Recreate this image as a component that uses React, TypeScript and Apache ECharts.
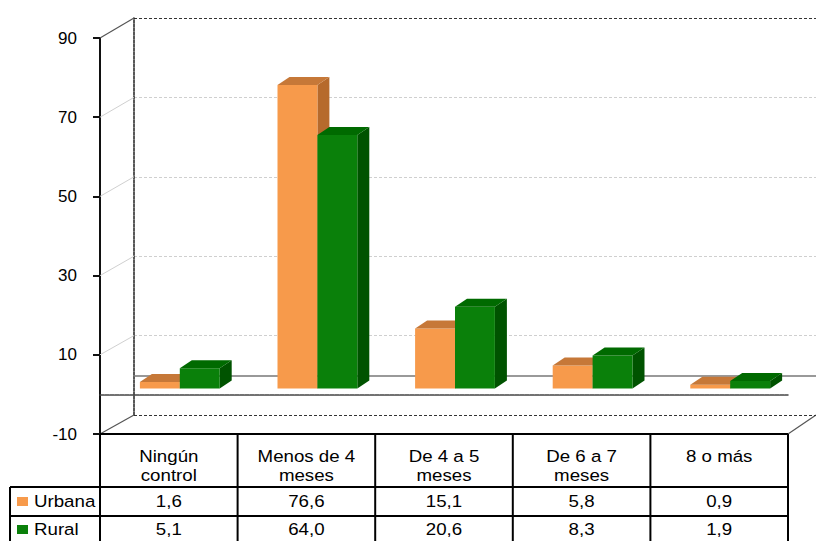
import React, { useEffect, useRef } from 'react';
import * as echarts from 'echarts';

const categories = ['Ningún\ncontrol', 'Menos de 4\nmeses', 'De 4 a 5\nmeses', 'De 6 a 7\nmeses', '8 o más'];
const seriesNames = ['Urbana', 'Rural'];
const urbana = [1.6, 76.6, 15.1, 5.8, 0.9];
const rural = [5.1, 64.0, 20.6, 8.3, 1.9];
const yMin = -10;
const yMax = 90;
const yStep = 20;

const PALETTE = [
  { front: '#F79A4B', top: '#C67838', side: '#B66A2C' },
  { front: '#0A800A', top: '#006A00', side: '#005300' },
];

// layout
const FRONT = { left: 100, top: 38, width: 688, height: 396 };
const BACK = { left: 134, top: 18, width: 682, height: 397 };
const BARS = { left: 111, top: 32, width: 688, height: 396 };
const DX = 12;
const DY = 8;
const TABLE_TOP = 434;
const ROW1 = 487;
const ROW2 = 516;
const ROW3 = 545;
const LEG_LEFT = 10;
const FONT = "17px 'Liberation Sans', Arial, sans-serif";
const TEXT_SX = 1.1;

const fmt = (v: number) => v.toFixed(1).replace('.', ',');

function makeRender(sIdx: number) {
  return (params: any, api: any) => {
    const i = api.value(0);
    const v = api.value(1);
    const base = api.coord([i, 0]);
    const topP = api.coord([i, v]);
    const band = api.size([1, 0])[0];
    const w = band * 0.29;
    const x0 = base[0] - w + sIdx * w;
    const yT = topP[1];
    const yB = base[1];
    const c = PALETTE[sIdx];
    return {
      type: 'group',
      children: [
        {
          type: 'polygon',
          shape: { points: [[x0 + w, yT], [x0 + w + DX, yT - DY], [x0 + w + DX, yB - DY], [x0 + w, yB]] },
          style: { fill: c.side },
        },
        {
          type: 'rect',
          shape: { x: x0, y: yT, width: w, height: yB - yT },
          style: { fill: c.front },
        },
        {
          type: 'polygon',
          shape: { points: [[x0, yT], [x0 + DX, yT - DY], [x0 + w + DX, yT - DY], [x0 + w, yT]] },
          style: { fill: c.top },
        },
      ],
    };
  };
}

export default function App() {
  const ref = useRef<HTMLDivElement>(null);
  useEffect(() => {
    if (!ref.current) return;
    const chart = echarts.init(ref.current, null, { renderer: 'svg' });

    const graphics: any[] = [];
    const nTicks = Math.round((yMax - yMin) / yStep);
    const fScale = FRONT.height / (yMax - yMin);
    const bScale = BACK.height / (yMax - yMin);
    for (let k = 0; k <= nTicks; k++) {
      const v = yMin + k * yStep;
      const yF = FRONT.top + (yMax - v) * fScale;
      const yBk = BACK.top + (yMax - v) * bScale;
      const edge = k === 0 || k === nTicks;
      graphics.push({
        type: 'line',
        shape: { x1: FRONT.left, y1: yF, x2: BACK.left, y2: yBk },
        style: { stroke: edge ? '#555' : '#d0d0d0', lineWidth: edge ? 1.2 : 1 },
        z: 1,
      });
    }
    // right floor diagonal
    graphics.push({
      type: 'line',
      shape: { x1: FRONT.left + FRONT.width, y1: TABLE_TOP, x2: BACK.left + BACK.width, y2: BACK.top + BACK.height },
      style: { stroke: '#555', lineWidth: 1.2 },
    });
    // table lines
    const colW = FRONT.width / categories.length;
    const L = (x1: number, y1: number, x2: number, y2: number) =>
      graphics.push({ type: 'line', shape: { x1, y1, x2, y2 }, style: { stroke: '#000', lineWidth: 2 }, z: 10 });
    L(FRONT.left, TABLE_TOP, FRONT.left + FRONT.width, TABLE_TOP);
    L(LEG_LEFT, ROW1, FRONT.left + FRONT.width, ROW1);
    L(LEG_LEFT, ROW2, FRONT.left + FRONT.width, ROW2);
    L(LEG_LEFT, ROW3, FRONT.left + FRONT.width, ROW3);
    L(LEG_LEFT, ROW1, LEG_LEFT, ROW3);
    for (let c = 0; c <= categories.length; c++) {
      const x = FRONT.left + c * colW;
      L(x, TABLE_TOP, x, ROW3);
    }
    // table texts
    categories.forEach((cat, i) => {
      const cx = FRONT.left + (i + 0.5) * colW;
      graphics.push({
        type: 'text',
        x: cx,
        y: TABLE_TOP + 13,
        scaleX: TEXT_SX,
        style: { text: cat, font: FONT, fill: '#000', align: 'center', verticalAlign: 'top', textAlign: 'center', textVerticalAlign: 'top', lineHeight: 19 },
        z: 10,
      });
      [urbana, rural].forEach((arr, s) => {
        graphics.push({
          type: 'text',
          x: cx,
          y: s === 0 ? (ROW1 + ROW2) / 2 : (ROW2 + ROW3) / 2 - 1,
          scaleX: TEXT_SX,
          style: { text: fmt(arr[i]), font: FONT, fill: '#000', align: 'center', verticalAlign: 'middle', textAlign: 'center', textVerticalAlign: 'middle' },
          z: 10,
        });
      });
    });
    seriesNames.forEach((name, s) => {
      const yc = s === 0 ? (ROW1 + ROW2) / 2 : (ROW2 + ROW3) / 2 - 1;
      graphics.push({
        type: 'rect',
        shape: { x: 17, y: yc - 4.5, width: 11, height: 9 },
        style: { fill: PALETTE[s].front },
        z: 10,
      });
      graphics.push({
        type: 'text',
        x: 34,
        y: yc,
        scaleX: TEXT_SX,
        style: { text: name, font: FONT, fill: '#000', align: 'left', verticalAlign: 'middle', textAlign: 'left', textVerticalAlign: 'middle' },
        z: 10,
      });
    });

    const hiddenCat = (gridIndex: number, extra: any = {}) => ({
      type: 'category',
      gridIndex,
      data: categories,
      boundaryGap: true,
      axisTick: { show: false },
      axisLabel: { show: false },
      splitLine: { show: false },
      ...extra,
    });

    chart.setOption({
      animation: false,
      backgroundColor: '#fff',
      grid: [
        { ...FRONT, containLabel: false },
        { ...BACK, containLabel: false },
        { ...BARS, containLabel: false },
      ],
      xAxis: [
        hiddenCat(0, { axisLine: { show: true, onZero: true, lineStyle: { color: '#444', width: 1.5, type: [4, 1] } }, z: 3 }),
        hiddenCat(1, { axisLine: { show: true, onZero: true, lineStyle: { color: '#777', width: 1.5 } } }),
        hiddenCat(2, { axisLine: { show: false } }),
      ],
      yAxis: [
        {
          type: 'value', gridIndex: 0, min: yMin, max: yMax, interval: yStep,
          axisLine: { show: true, lineStyle: { color: '#111', width: 2 } },
          axisTick: { show: true, inside: false, length: 7, lineStyle: { color: '#111', width: 2 } },
          axisLabel: { show: true, margin: 23, color: '#000', fontSize: 17, fontFamily: "'Liberation Sans', Arial, sans-serif" },
          splitLine: { show: false },
        },
        {
          type: 'value', gridIndex: 1, min: yMin, max: yMax, interval: yStep,
          axisLine: { show: true, lineStyle: { color: '#222', width: 1.5, type: [3, 1] } },
          axisTick: { show: false },
          axisLabel: { show: false },
          splitLine: { show: true, lineStyle: { color: ['#333', '#cfcfcf', '#cfcfcf', '#cfcfcf', '#cfcfcf', '#333'], width: 1.2, type: [3, 2] } },
        },
        {
          type: 'value', gridIndex: 2, min: yMin, max: yMax, interval: yStep,
          axisLine: { show: false }, axisTick: { show: false }, axisLabel: { show: false }, splitLine: { show: false },
        },
      ],
      graphic: graphics,
      series: [urbana, rural].map((arr, s) => ({
        type: 'custom',
        name: seriesNames[s],
        xAxisIndex: 2,
        yAxisIndex: 2,
        z: 5,
        renderItem: makeRender(s),
        data: arr.map((v, i) => [i, v]),
      })),
    });
    return () => chart.dispose();
  }, []);
  return <div ref={ref} style={{ position: 'absolute', left: 0, top: 0, width: 816, height: 541 }} />;
}
